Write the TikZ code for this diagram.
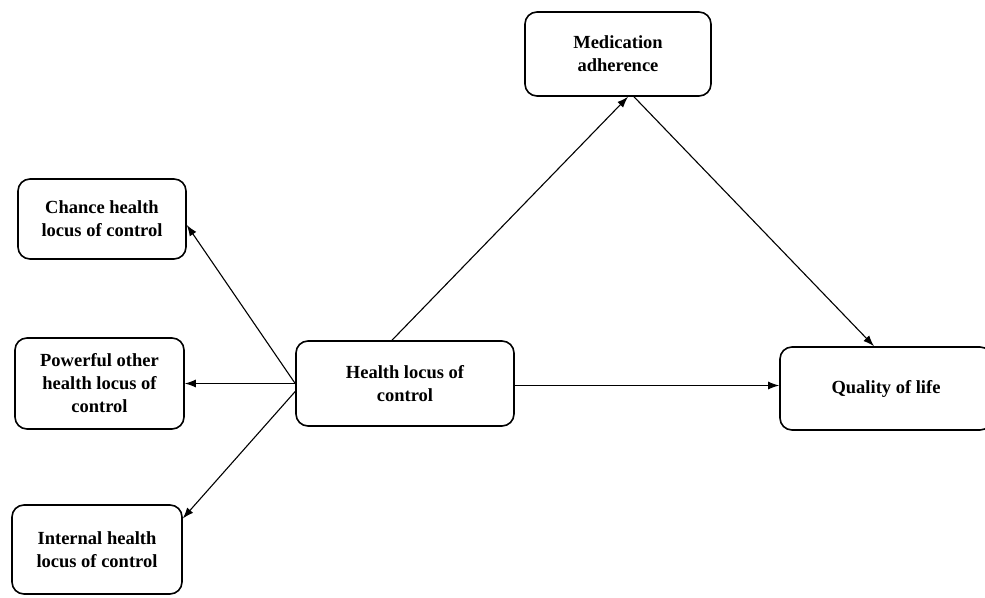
\documentclass[tikz,border=0pt]{standalone}
\usepackage{fontspec}
\setmainfont{Liberation Serif}
\usetikzlibrary{arrows.meta}

\begin{document}
\begin{tikzpicture}[x=1pt, y=-1pt,
	box/.style = {shape=rectangle, rounded corners=12pt,
		draw, line width=1.6pt, align=center, inner sep=2pt,
		font=\bfseries\fontsize{18.5}{23}\selectfont},
	link/.style = {line width=1.1pt, -{Latex[length=11pt,width=8pt]}}]
	\useasboundingbox (0,0) rectangle (985,597);
	\node[box, minimum width=186pt, minimum height=84pt] (med) at (618,54) {Medication\\adherence};
	\node[box, minimum width=168pt, minimum height=80pt] (chance) at (102,219) {Chance health\\locus of control};
	\node[box, minimum width=169pt, minimum height=91pt] (power) at (99.5,383.5) {Powerful other\\health locus of\\control};
	\node[box, minimum width=170pt, minimum height=89pt] (internal) at (97,549.5) {Internal health\\locus of control};
	\node[box, minimum width=218pt, minimum height=85pt] (hlc) at (405,383.5) {Health locus of\\control};
	\node[box, minimum width=212pt, minimum height=83pt] (qol) at (886,388.5) {Quality of life};
	% arrows
	\draw[link] (hlc.west) -- ([yshift=-6pt]chance.east);
	\draw[link] (hlc.west) -- (power.east);
	\draw[link] ([yshift=-8pt]hlc.west) -- ([yshift=31pt]internal.east);
	\draw[link] ([xshift=-13pt]hlc.north) -- ([xshift=10pt]med.south);
	\draw[link] ([xshift=16pt]med.south) -- ([xshift=-12pt]qol.north);
	\draw[link] ([yshift=-2pt]hlc.east) -- ([yshift=-2pt]hlc.east -| qol.west);
\end{tikzpicture}
\end{document}
